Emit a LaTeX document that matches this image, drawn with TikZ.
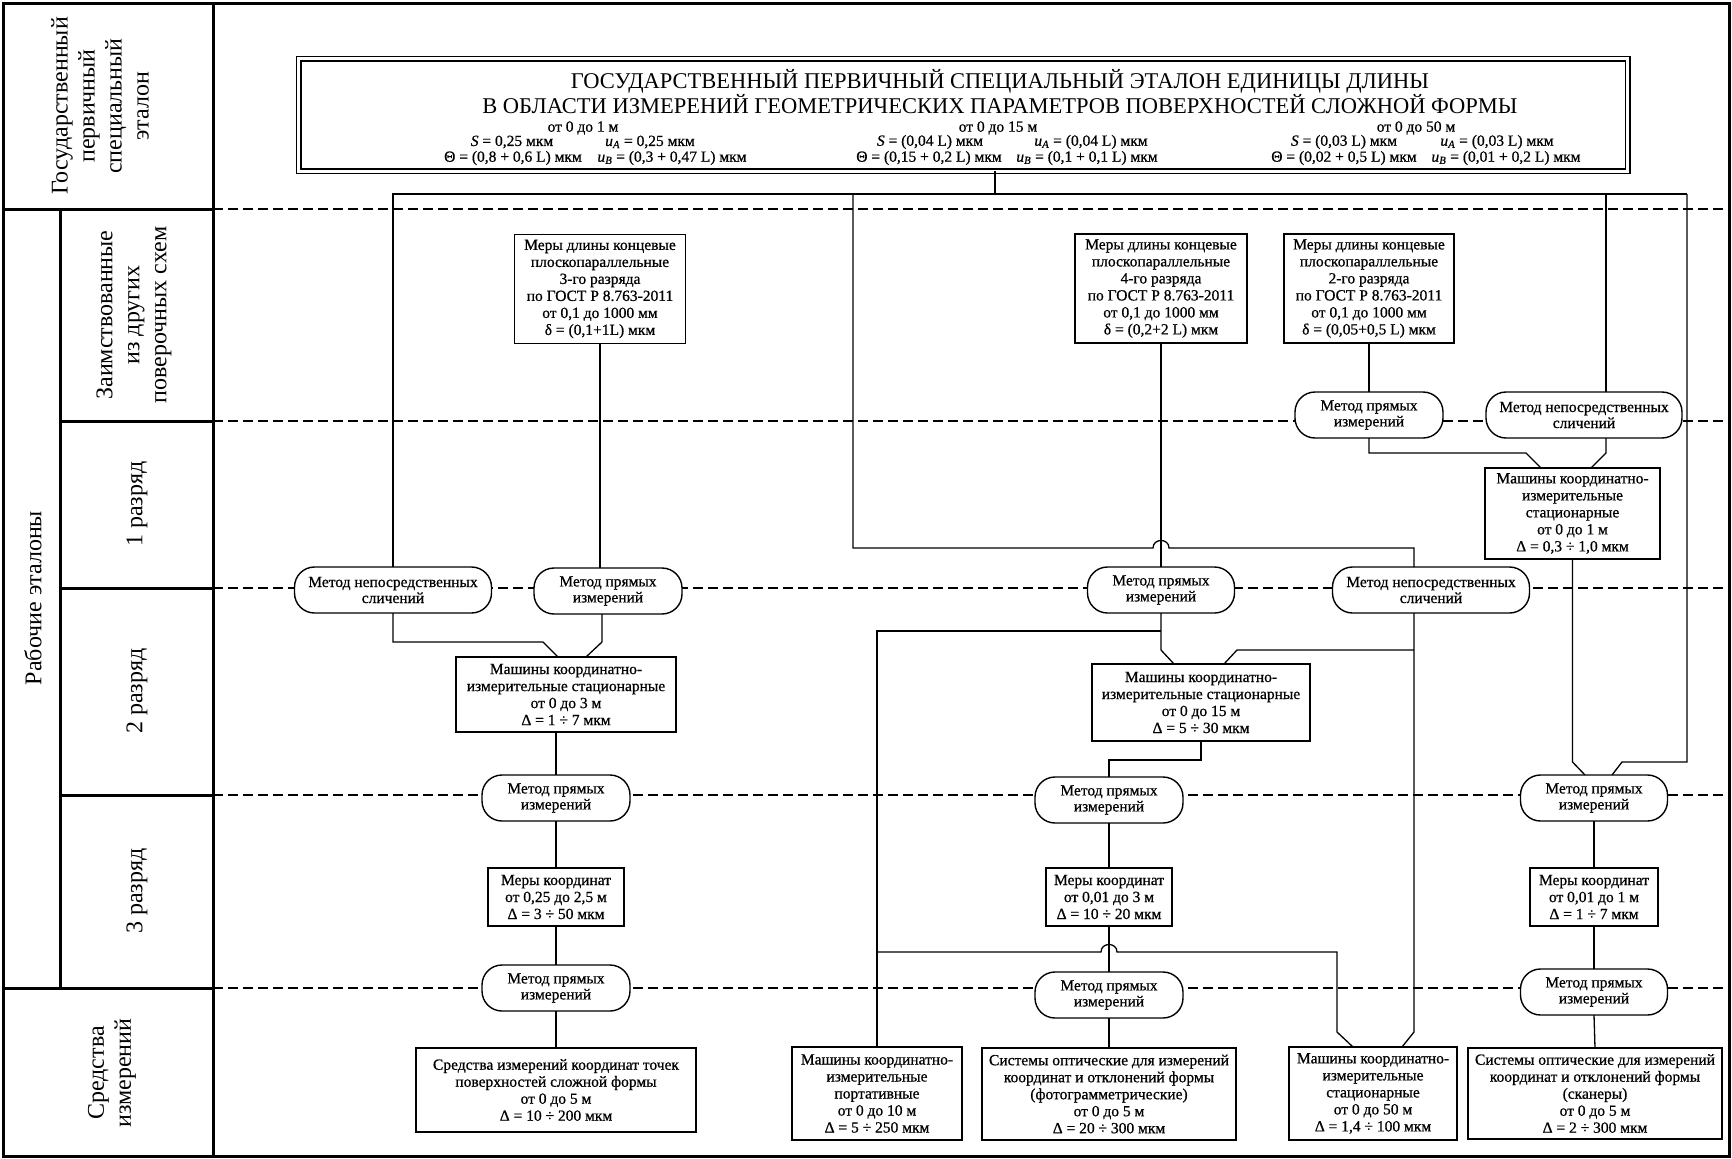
\documentclass[tikz,border=0pt]{standalone}
\usepackage{fontspec}
\setmainfont{Liberation Serif}
\newfontfamily\boldish[FakeBold=0.7]{Liberation Serif}
\begin{document}
\begin{tikzpicture}[x=1pt,y=-1pt,
  every node/.style={inner sep=0pt, outer sep=0pt},
  ln/.style={line width=1.3pt},
  dsh/.style={line width=1.2pt, dash pattern=on 10pt off 5pt},
  frm/.style={line width=3pt},
  box/.style={draw, line width=1.4pt, fill=white, align=center, font=\boldish\fontsize{15.5}{17}\selectfont},
  meth/.style={draw, line width=1.4pt, fill=white, align=center, rounded corners=20pt, minimum height=46pt, font=\boldish\fontsize{15.5}{16}\selectfont},
  lbl/.style={rotate=90, align=center, font=\fontsize{24}{27}\selectfont},
  sub/.style={font=\boldish\fontsize{15.5}{16}\selectfont},
]
\useasboundingbox (0,0) rectangle (1732,1159);
% frame
\draw[frm] (3,3) rectangle (1729,1156);
\draw[frm] (213,3) -- (213,1156);
\draw[frm] (60,209) -- (60,988);
\draw[frm] (3,209) -- (213,209);
\draw[frm] (3,988) -- (213,988);
\draw[frm] (60,421) -- (213,421);
\draw[frm] (60,588) -- (213,588);
\draw[frm] (60,795) -- (213,795);
\foreach \yy in {209,421,588,795,988} \draw[dsh] (213,\yy) -- (1729,\yy);
% left labels
\node[lbl] (lgos) at (100,106) {Государственный\\первичный\\специальный\\эталон};
\node[lbl] (lzaim) at (134,315) {Заимствованные\\из других\\поверочных схем};
\node[lbl] (lrab) at (33,598) {Рабочие эталоны};
\node[lbl] (l1) at (137,504) {1 разряд};
\node[lbl] (l2) at (137,691) {2 разряд};
\node[lbl] (l3) at (137,891) {3 разряд};
\node[lbl] (lsr) at (112,1073) {Средства\\измерений};
% top box
\node[draw, double, double distance=3pt, line width=1.5pt, minimum width=1329pt, minimum height=112.5pt] (top) at (963,114.75) {};
\node[font=\fontsize{22.5}{21}\selectfont, align=center] (ttl) at (1000,92) {ГОСУДАРСТВЕННЫЙ ПЕРВИЧНЫЙ СПЕЦИАЛЬНЫЙ ЭТАЛОН ЕДИНИЦЫ ДЛИНЫ\\В ОБЛАСТИ ИЗМЕРЕНИЙ ГЕОМЕТРИЧЕСКИХ ПАРАМЕТРОВ ПОВЕРХНОСТЕЙ СЛОЖНОЙ ФОРМЫ};
\node[sub] (r1a) at (583,128) {от 0 до 1 м};
\node[sub] (r1s) at (512,142) {\textit{S} = 0,25 мкм};
\node[sub] (r1t) at (513,158) {Θ = (0,8 + 0,6 L) мкм};
\node[sub] (r1u) at (650,142) {\textit{u}\textsubscript{\textit{А}} = 0,25 мкм};
\node[sub] (r1v) at (672,158) {\textit{u}\textsubscript{\textit{В}} = (0,3 + 0,47 L) мкм};
\node[sub] (r2a) at (998,128) {от 0 до 15 м};
\node[sub] (r2s) at (930,142) {\textit{S} = (0,04 L) мкм};
\node[sub] (r2t) at (929,158) {Θ = (0,15 + 0,2 L) мкм};
\node[sub] (r2u) at (1091,142) {\textit{u}\textsubscript{\textit{А}} = (0,04 L) мкм};
\node[sub] (r2v) at (1087,158) {\textit{u}\textsubscript{\textit{В}} = (0,1 + 0,1 L) мкм};
\node[sub] (r3a) at (1416,128) {от 0 до 50 м};
\node[sub] (r3s) at (1344,142) {\textit{S} = (0,03 L) мкм};
\node[sub] (r3t) at (1344,158) {Θ = (0,02 + 0,5 L) мкм};
\node[sub] (r3u) at (1497,142) {\textit{u}\textsubscript{\textit{А}} = (0,03 L) мкм};
\node[sub] (r3v) at (1506,158) {\textit{u}\textsubscript{\textit{В}} = (0,01 + 0,2 L) мкм};
% borrowed standards
\node[box, minimum width=171pt, minimum height=109pt] (m3) at (600,289) {Меры длины концевые\\плоскопараллельные\\3-го разряда\\по ГОСТ Р 8.763-2011\\от 0,1 до 1000 мм\\δ = (0,1+1L) мкм};
\node[box, minimum width=172pt, minimum height=109pt] (m4) at (1161,288.5) {Меры длины концевые\\плоскопараллельные\\4-го разряда\\по ГОСТ Р 8.763-2011\\от 0,1 до 1000 мм\\δ = (0,2+2 L) мкм};
\node[box, minimum width=170pt, minimum height=109pt] (m2) at (1369,288.5) {Меры длины концевые\\плоскопараллельные\\2-го разряда\\по ГОСТ Р 8.763-2011\\от 0,1 до 1000 мм\\δ = (0,05+0,5 L) мкм};
% methods
\node[meth, minimum width=197pt] (mA) at (393,590) {Метод непосредственных\\сличений};
\node[meth, minimum width=148pt] (mB) at (608,591) {Метод прямых\\измерений};
\node[meth, minimum width=148pt] (mC) at (1369,415) {Метод прямых\\измерений};
\node[meth, minimum width=196pt] (mD) at (1584,415) {Метод непосредственных\\сличений};
\node[meth, minimum width=147pt] (mE) at (1161,590) {Метод прямых\\измерений};
\node[meth, minimum width=197pt] (mF) at (1431,590) {Метод непосредственных\\сличений};
\node[meth, minimum width=148pt] (mG) at (556,798) {Метод прямых\\измерений};
\node[meth, minimum width=148pt] (mH) at (1109,800) {Метод прямых\\измерений};
\node[meth, minimum width=147pt] (mI) at (1594,798) {Метод прямых\\измерений};
\node[meth, minimum width=148pt] (mJ) at (556,988) {Метод прямых\\измерений};
\node[meth, minimum width=148pt] (mK) at (1109,995) {Метод прямых\\измерений};
\node[meth, minimum width=147pt] (mL) at (1594,992) {Метод прямых\\измерений};
% working standards
\node[box, minimum width=175pt, minimum height=91pt] (k1) at (1572.5,513.5) {Машины координатно-\\измерительные\\стационарные\\от 0 до 1 м\\Δ = 0,3 ÷ 1,0 мкм};
\node[box, minimum width=220pt, minimum height=75pt] (k3) at (566,694.5) {Машины координатно-\\измерительные стационарные\\от 0 до 3 м\\Δ = 1 ÷ 7 мкм};
\node[box, minimum width=218pt, minimum height=77pt] (k15) at (1201,702.5) {Машины координатно-\\измерительные стационарные\\от 0 до 15 м\\Δ = 5 ÷ 30 мкм};
\node[box, minimum width=136pt, minimum height=58pt] (mk1) at (556,897) {Меры координат\\от 0,25 до 2,5 м\\Δ = 3 ÷ 50 мкм};
\node[box, minimum width=126pt, minimum height=58pt] (mk2) at (1109,897) {Меры координат\\от 0,01 до 3 м\\Δ = 10 ÷ 20 мкм};
\node[box, minimum width=128pt, minimum height=58pt] (mk3) at (1594,897) {Меры координат\\от 0,01 до 1 м\\Δ = 1 ÷ 7 мкм};
% measuring instruments
\node[box, minimum width=280pt, minimum height=84pt] (s1) at (556,1090) {Средства измерений координат точек\\поверхностей сложной формы\\от 0 до 5 м\\Δ = 10 ÷ 200 мкм};
\node[box, minimum width=170pt, minimum height=93pt] (s2) at (877,1093.5) {Машины координатно-\\измерительные\\портативные\\от 0 до 10 м\\Δ = 5 ÷ 250 мкм};
\node[box, minimum width=254pt, minimum height=92pt] (s3) at (1109,1094) {Системы оптические для измерений\\координат и отклонений формы\\(фотограмметрические)\\от 0 до 5 м\\Δ = 20 ÷ 300 мкм};
\node[box, minimum width=168pt, minimum height=93pt] (s4) at (1373,1093.5) {Машины координатно-\\измерительные\\стационарные\\от 0 до 50 м\\Δ = 1,4 ÷ 100 мкм};
\node[box, minimum width=254pt, minimum height=91pt] (s5) at (1595,1093.5) {Системы оптические для измерений\\координат и отклонений формы\\(сканеры)\\от 0 до 5 м\\Δ = 2 ÷ 300 мкм};
% connectors
\coordinate (j0) at (995,194);
\coordinate (bR) at (1687,194);
\coordinate (d1) at ([xshift=22pt]mD.north);
\coordinate (d2) at ([xshift=22pt]mD.south);
\coordinate (f1) at ([xshift=-17pt]mF.north);
\coordinate (f3) at ([xshift=-17pt]mF.south);
\coordinate (e1) at (1161,631);
\coordinate (f2) at (1414,650);
\coordinate (g1) at (877,952);
\draw[ln] (top.south -| j0) -- (j0);
\draw[ln] (mA.north) |- (bR);
\draw[ln] (bR) |- (1622,762) -- ([xshift=18pt]mI.north);
\draw[ln] (d1) -- (d1 |- j0);
\draw[ln] (853,194) -- (853,548) -- (1153,548) .. controls (1153,538) and (1169,538) .. (1169,548) -- (1414,548) -- (f1);
\draw[ln] (m4.south) -- (mE.north);
\draw[ln] (m2.south) -- (mC.north);
\draw[ln] (m3.south) -- (m3.south |- mB.north);
\draw[ln] (mC.south) |- (1526,453) -- ([xshift=-31.5pt]k1.north);
\draw[ln] (d2) -- (1606,453) -- ([xshift=18.5pt]k1.north);
\draw[ln] (k1.south) -- (1572.5,762) -- ([xshift=-9pt]mI.north);
\draw[ln] (mA.south) |- (543,642) -- ([xshift=-8pt]k3.north);
\draw[ln] ([xshift=-6pt]mB.south) -- (602,642) -- ([xshift=20pt]k3.north);
\draw[ln] ([xshift=-10pt]k3.south) -- (mG.north);
\draw[ln] (mG.south) -- (mk1.north);
\draw[ln] (mk1.south) -- (mJ.north);
\draw[ln] (mJ.south) -- (s1.north);
\draw[ln] (mE.south) -- (1161,650) -- ([xshift=-27pt]k15.north);
\draw[ln] (e1) -| (s2.north);
\draw[ln] (f3) -- (1414,1032) -- ([xshift=29pt]s4.north);
\draw[ln] (f2) -- (1237,650) -- ([xshift=23pt]k15.north);
\draw[ln] (k15.south) -- (1201,760) -| (mH.north);
\draw[ln] (mH.south) -- (mk2.north);
\draw[ln] (mk2.south) -- (mK.north);
\draw[ln] (mK.south) -- (s3.north);
\draw[ln] (g1) -- (1101,952) .. controls (1101,942) and (1117,942) .. (1117,952) -- (1337,952) -- (1337,1032) -- ([xshift=-20pt]s4.north);
\draw[ln] (mI.south) -- (mk3.north);
\draw[ln] (mk3.south) -- (mL.north);
\draw[ln] (mL.south) -- (s5.north);
\end{tikzpicture}
\end{document}
